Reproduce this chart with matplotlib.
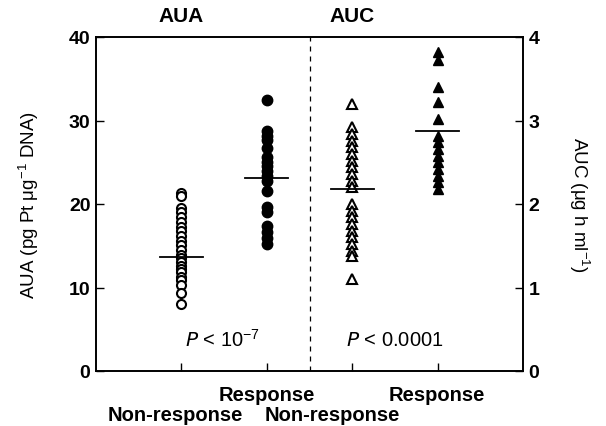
import matplotlib
matplotlib.use("Agg")
import matplotlib.pyplot as plt
import matplotlib.transforms as mtransforms

# ---- data ----
groups = ["Non-response", "Response", "Non-response", "Response"]
group_x = [1, 2, 3, 4]
aua_nonresp = [21.3, 21.0, 19.5, 19.0, 18.4, 17.8, 17.3, 16.8, 16.2, 15.6, 15.1, 14.5,
               13.9, 13.5, 13.0, 12.6, 12.2, 11.8, 11.3, 10.9, 10.3, 9.3, 8.0]
aua_resp = [32.4, 28.8, 28.2, 27.7, 26.7, 25.6, 25.0, 24.5, 24.0, 23.4, 22.8, 21.6,
            19.6, 19.0, 17.4, 16.6, 15.9, 15.2]
auc_nonresp = [3.20, 2.92, 2.84, 2.76, 2.68, 2.60, 2.52, 2.44, 2.36, 2.28, 2.20,
               2.00, 1.92, 1.84, 1.76, 1.68, 1.60, 1.52, 1.44, 1.38, 1.10]
auc_resp = [3.82, 3.73, 3.40, 3.22, 3.02, 2.82, 2.74, 2.66, 2.58, 2.50, 2.42,
            2.34, 2.26, 2.18]
aua_lines = [13.7, 23.1]
auc_lines = [2.18, 2.87]
left_ticks = [0, 10, 20, 30, 40]
right_ticks = [0, 1, 2, 3, 4]

plt.rcParams['font.family'] = ['Liberation Sans', 'DejaVu Sans']

fig = plt.figure(figsize=(6.06, 4.27), dpi=100)
W, H = 606, 427
ax = fig.add_axes([96 / W, (H - 372) / H, (523 - 96) / W, (372 - 38) / H])
ax2 = ax.twinx()

ax.set_xlim(0, 5)
ax.set_ylim(0, 40)
ax2.set_ylim(0, 4)

ax.plot([group_x[0]] * len(aua_nonresp), aua_nonresp, 'o', ms=6.5, mfc='white',
        mec='black', mew=1.5, ls='none')
ax.plot([group_x[1]] * len(aua_resp), aua_resp, 'o', ms=7.5, mfc='black',
        mec='black', ls='none')
ax2.plot([group_x[2]] * len(auc_nonresp), auc_nonresp, '^', ms=6.5, mfc='white',
         mec='black', mew=1.5, ls='none')
ax2.plot([group_x[3]] * len(auc_resp), auc_resp, '^', ms=7.5, mfc='black',
         mec='black', ls='none')

hw = 0.25
for x, v in zip(group_x[:2], aua_lines):
    ax.plot([x - hw, x + hw], [v, v], color='black', lw=1.3)
for x, v in zip(group_x[2:], auc_lines):
    ax2.plot([x - hw, x + hw], [v, v], color='black', lw=1.3)

ax.axvline(2.5, color='black', lw=0.9, ls=(0, (4, 4)))

for a in (ax, ax2):
    for s in a.spines.values():
        s.set_linewidth(1.2)

ax.set_yticks(left_ticks)
ax.set_yticklabels([str(t) for t in left_ticks], fontsize=14, fontweight='bold')
ax2.set_yticks(right_ticks)
ax2.set_yticklabels([str(t) for t in right_ticks], fontsize=14, fontweight='bold')
ax.tick_params(axis='y', direction='in', length=6, width=1, pad=4)
ax2.tick_params(axis='y', direction='in', length=6, width=1, pad=4)
ax.set_xticks(group_x)
ax.set_xticklabels([])
ax.tick_params(axis='x', direction='in', length=6, width=1)

ax.set_ylabel(r'AUA (pg Pt $\mathregular{\mu}$g$^{\mathregular{-1}}$ DNA)', fontsize=13.5, labelpad=20)
ax2.set_ylabel(r'AUC ($\mathregular{\mu}$g h ml$^{\mathregular{-1}}$)', fontsize=13.5,
               rotation=270, labelpad=38)

trans = mtransforms.blended_transform_factory(ax.transData, ax.transAxes)
label_pos = [(0.93, -0.13), (2.0, -0.07), (2.77, -0.13), (3.99, -0.07)]
for g, (lx, ly) in zip(groups, label_pos):
    ax.text(lx, ly, g, transform=trans, ha='center', va='center',
            fontsize=14.5, fontweight='bold', clip_on=False)

ax.text(1.0, 1.065, 'AUA', transform=trans, ha='center', va='center',
        fontsize=15, fontweight='bold')
ax.text(3.0, 1.065, 'AUC', transform=trans, ha='center', va='center',
        fontsize=15, fontweight='bold')

ax.text(1.48, 0.095, r'$\mathit{P}$ < 10$^{\mathregular{-7}}$', transform=trans,
        ha='center', va='center', fontsize=14.5)
ax.text(3.5, 0.095, r'$\mathit{P}$ < 0.0001', transform=trans,
        ha='center', va='center', fontsize=14.5)

fig.savefig('out.png', dpi=100)
